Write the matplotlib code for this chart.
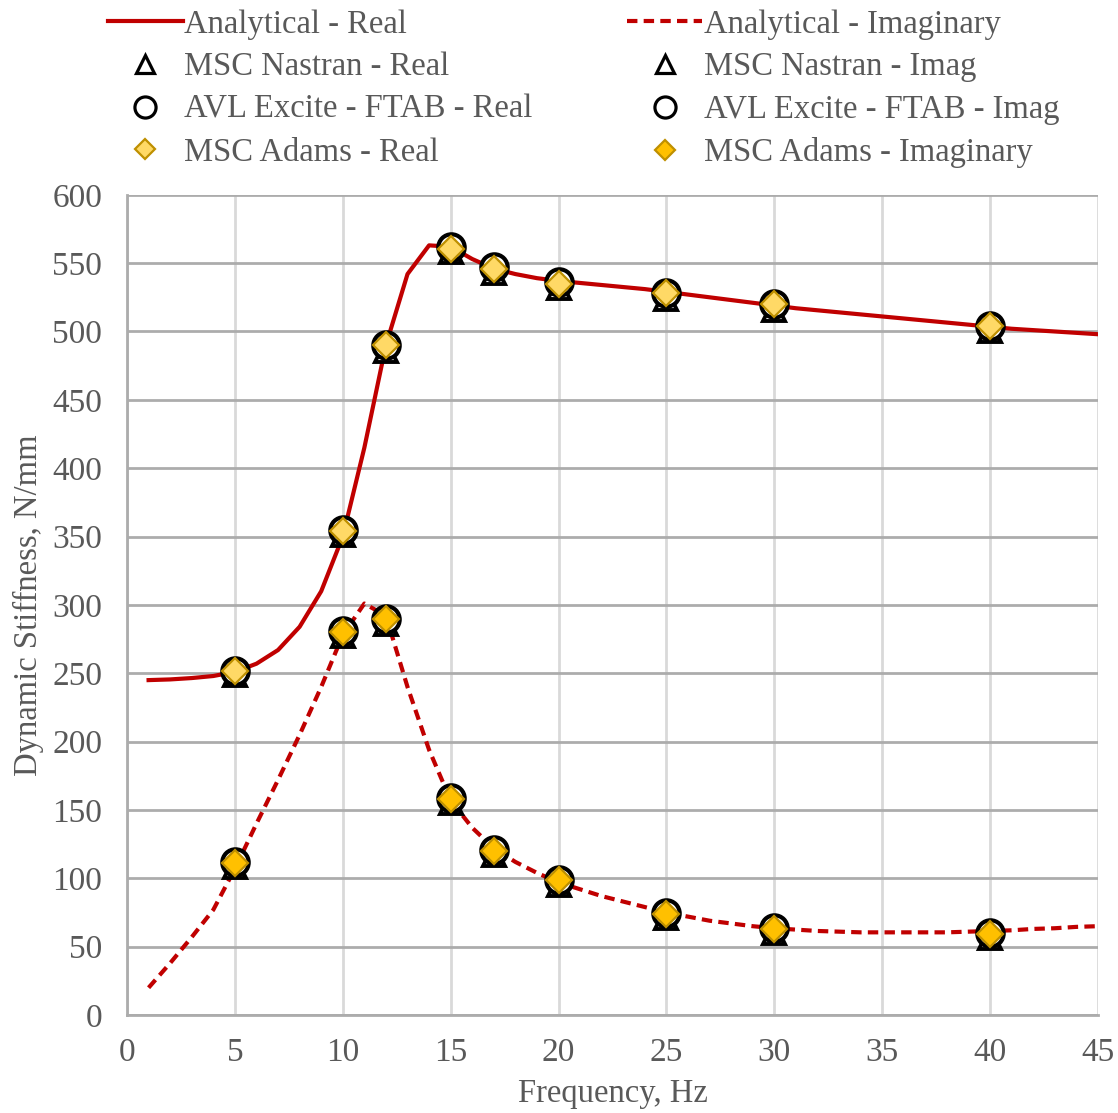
import matplotlib
matplotlib.use('Agg')
import matplotlib.pyplot as plt
import numpy as np

plt.rcParams['font.family'] = ['Liberation Serif', 'DejaVu Serif']

# analytical curves
freq = list(range(1, 46))
an_real = [245, 245.5, 246.5, 248, 251, 257, 267, 284, 310, 350,
           415, 490, 542, 563, 562, 553, 546, 542, 539, 537,
           535.5, 534, 532.5, 531, 529, 527, 525, 523, 521, 519,
           517, 515.5, 514, 512.5, 511, 509.5, 508, 506.5, 505, 503.5,
           502, 501, 500, 499, 498]
an_imag = [20, 38, 57, 77, 107, 140, 172, 205, 240, 278,
           301, 292, 240, 194, 157, 137, 122, 112, 104, 97,
           92, 87, 83, 79, 75, 72, 69, 67, 65, 63.5,
           62.5, 61.5, 61, 60.5, 60.5, 60.5, 60.5, 60.5, 61, 61.5,
           62, 63, 63.5, 64.5, 65]

# simulation points
f_pts = [5, 10, 12, 15, 17, 20, 25, 30, 40]
nastran_real = [249, 351, 486, 558, 543, 532, 524, 516, 500]
nastran_imag = [108, 277, 286, 155, 117, 95, 71, 60, 56]
avl_real = [252, 355, 490, 562, 547, 536, 528, 520, 504]
avl_imag = [112, 281, 290, 159, 121, 99, 75, 64, 60]
adams_real = [252, 354, 490, 560, 546, 535, 528, 520, 504]
adams_imag = [111, 280, 290, 158, 120, 99, 74, 63, 59]

red = '#C00000'
grey = '#595959'

fig = plt.figure(figsize=(11.18, 11.13), dpi=100)
ax = fig.add_axes([0.1136, 0.088, 0.8685, 0.737])

l1, = ax.plot(freq, an_real, color=red, lw=3, zorder=3)
l2, = ax.plot(freq, an_imag, color=red, lw=3, ls=(0, (2.5, 1.5)), zorder=3)

tri_kw = dict(ls='none', marker='^', ms=16, mfc='white', mec='black', mew=2.8, zorder=4)
circ_kw = dict(ls='none', marker='o', ms=19, mfc='white', mec='black', mew=3, zorder=5)

t1, = ax.plot(f_pts, nastran_real, **tri_kw)
t2, = ax.plot(f_pts, nastran_imag, **tri_kw)
c1, = ax.plot(f_pts, avl_real, **circ_kw)
c2, = ax.plot(f_pts, avl_imag, **circ_kw)
d1, = ax.plot(f_pts, adams_real, ls='none', marker='D', ms=13, mfc='#FFD966', mec='#BF9000', mew=1.6, zorder=6)
d2, = ax.plot(f_pts, adams_imag, ls='none', marker='D', ms=13, mfc='#FFC000', mec='#BF9000', mew=1.6, zorder=6)

ax.set_xlim(0, 45)
ax.set_ylim(0, 600)
ax.set_xticks(np.arange(0, 46, 5))
ax.set_yticks(np.arange(0, 601, 50))
ax.xaxis.grid(True, color='#d9d9d9', lw=2)
ax.yaxis.grid(True, color='#acacac', lw=2)
ax.set_axisbelow(True)
for s in ['top', 'right']:
    ax.spines[s].set_visible(False)
ax.spines['left'].set_color('#acacac')
ax.spines['left'].set_linewidth(2)
ax.spines['bottom'].set_color('#acacac')
ax.spines['bottom'].set_linewidth(2)
ax.tick_params(length=0, labelsize=24, labelcolor=grey)
ax.tick_params(axis='y', pad=18)
ax.tick_params(axis='x', pad=16)

ax.set_xlabel('Frequency, Hz', fontsize=23.5, color=grey, labelpad=8)
ax.set_ylabel('Dynamic Stiffness, N/mm', fontsize=23.5, color=grey, labelpad=6)

# legend filled column by column: real on the left, imaginary on the right
handles = [l1, t1, c1, d1, l2, t2, c2, d2]
labels = ['Analytical - Real', 'MSC Nastran - Real',
          'AVL Excite - FTAB - Real', 'MSC Adams - Real',
          'Analytical - Imaginary', 'MSC Nastran - Imag',
          'AVL Excite - FTAB - Imag', 'MSC Adams - Imaginary']
leg = fig.legend(handles, labels, ncol=2, loc='upper left', bbox_to_anchor=(0.07, 1.018),
                 frameon=False, fontsize=23.5, labelcolor=grey, columnspacing=2.9,
                 handlelength=2.3, handletextpad=0.05, labelspacing=0.37, markerscale=0.8)
for h in leg.legend_handles:
    if h.get_marker() in ['^', 'o']:
        h.set_markeredgewidth(2.3)

plt.savefig('out.png', dpi=100)
